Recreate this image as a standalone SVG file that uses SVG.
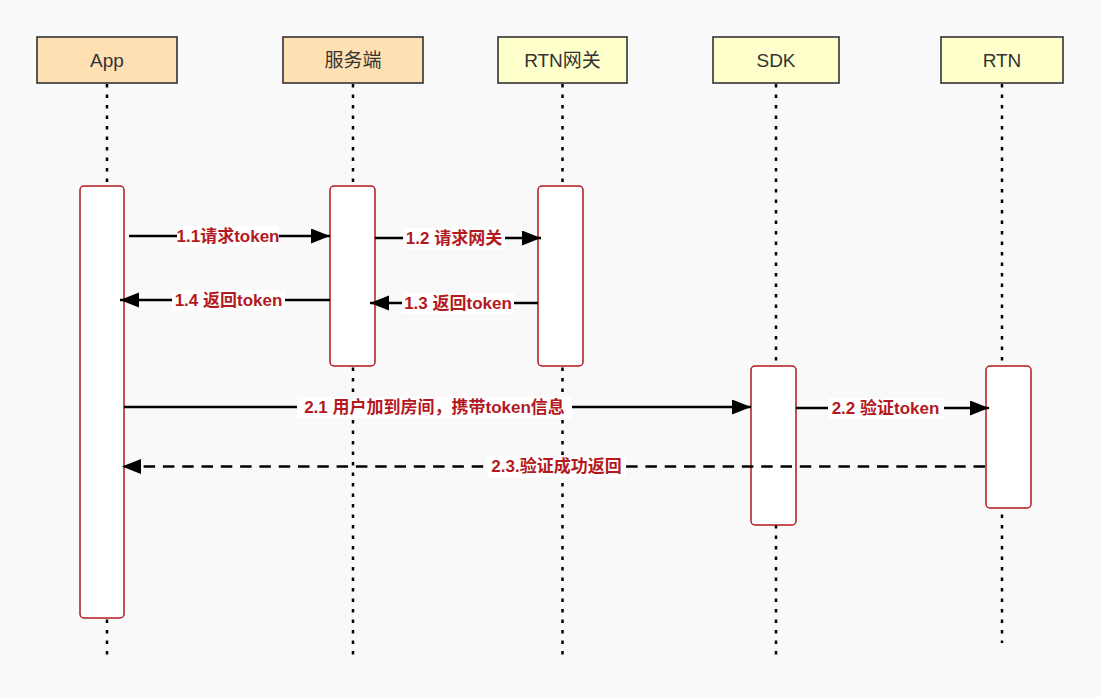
<svg xmlns="http://www.w3.org/2000/svg" width="1101" height="697" viewBox="0 0 1101 697">
  <defs>
    <style>
      .hdr { stroke: #333333; stroke-width: 1.6; }
      .peach { fill: #FFE0B3; }
      .yellow { fill: #FFFFCC; }
      .htxt { font-family: "Liberation Sans", "Noto Sans CJK SC", sans-serif; font-size: 19px; fill: #333333; text-anchor: middle; }
      .life { stroke: #000000; stroke-width: 2.5; stroke-dasharray: 3.5 7; fill: none; }
      .act { fill: #FFFFFF; stroke: #B3191E; stroke-width: 1.5; }
      .msg { stroke: #000000; stroke-width: 2.5; fill: none; }
      .dash { stroke-dasharray: 11.5 7.8; }
      .lbg { fill: #FFFFFF; }
      .ltxt { font-family: "Liberation Sans", "Noto Sans CJK SC", sans-serif; font-size: 17px; font-weight: bold; fill: #B3191E; text-anchor: middle; }
    </style>
    <marker id="arr" markerUnits="userSpaceOnUse" markerWidth="20" markerHeight="16" refX="19" refY="7.5" orient="auto">
      <path d="M0,0 L19,7.5 L0,15 Z" fill="#000000"/>
    </marker>
  </defs>
  <rect width="1101" height="697" fill="#F9F9F9"/>

  <g id="lifelines">
    <line class="life" x1="107" y1="84" x2="107" y2="660"/>
    <line class="life" x1="353" y1="84" x2="353" y2="660"/>
    <line class="life" x1="562.5" y1="84" x2="562.5" y2="660"/>
    <line class="life" x1="776" y1="84" x2="776" y2="660"/>
    <line class="life" x1="1002" y1="84" x2="1002" y2="643"/>
  </g>

  <g id="node-app">
    <rect class="hdr peach" x="37" y="37" width="140" height="46"/>
    <text class="htxt" x="107" y="67">App</text>
  </g>
  <g id="node-server">
    <rect class="hdr peach" x="283" y="37" width="140" height="46"/>
    <text class="htxt" x="353" y="67">服务端</text>
  </g>
  <g id="node-gateway">
    <rect class="hdr yellow" x="498" y="37" width="129" height="46"/>
    <text class="htxt" x="562.5" y="67">RTN网关</text>
  </g>
  <g id="node-sdk">
    <rect class="hdr yellow" x="713" y="37" width="126" height="46"/>
    <text class="htxt" x="776" y="67">SDK</text>
  </g>
  <g id="node-rtn">
    <rect class="hdr yellow" x="941" y="37" width="122" height="46"/>
    <text class="htxt" x="1002" y="67">RTN</text>
  </g>

  <g id="activations">
    <rect id="act-app" class="act" x="80" y="186" width="44" height="432" rx="4"/>
    <rect id="act-server" class="act" x="330" y="186" width="45" height="180" rx="4"/>
    <rect id="act-gateway" class="act" x="538" y="186" width="45" height="180" rx="4"/>
    <rect id="act-sdk" class="act" x="751" y="366" width="45" height="159" rx="4"/>
    <rect id="act-rtn" class="act" x="986" y="366" width="45" height="142" rx="4"/>
  </g>

  <g id="connectors">
    <line class="msg" x1="129" y1="236" x2="330" y2="236" marker-end="url(#arr)"/>
    <line class="msg" x1="330" y1="300" x2="120" y2="300" marker-end="url(#arr)"/>
    <line class="msg" x1="375" y1="238" x2="541" y2="238" marker-end="url(#arr)"/>
    <line class="msg" x1="538" y1="303" x2="370" y2="303" marker-end="url(#arr)"/>
    <line class="msg" x1="124" y1="407" x2="751" y2="407" marker-end="url(#arr)"/>
    <line class="msg" x1="796" y1="408" x2="989" y2="408" marker-end="url(#arr)"/>
    <line class="msg dash" x1="985" y1="466.5" x2="122" y2="466.5" marker-end="url(#arr)"/>
  </g>

  <g id="labels">
    <rect class="lbg" x="177" y="226" width="102" height="21"/>
    <text class="ltxt" x="228" y="242">1.1请求token</text>
    <rect class="lbg" x="172" y="290" width="113" height="21"/>
    <text class="ltxt" x="228.5" y="306">1.4 返回token</text>
    <rect class="lbg" x="403" y="228" width="102" height="21"/>
    <text class="ltxt" x="454" y="244">1.2 请求网关</text>
    <rect class="lbg" x="402" y="293" width="112" height="21"/>
    <text class="ltxt" x="458" y="309">1.3 返回token</text>
    <rect class="lbg" x="297" y="397" width="275" height="21"/>
    <text class="ltxt" x="434.5" y="413">2.1 用户加到房间，携带token信息</text>
    <rect class="lbg" x="828" y="398" width="116" height="21"/>
    <text class="ltxt" x="885.5" y="414">2.2 验证token</text>
    <rect class="lbg" x="487" y="456" width="139" height="21"/>
    <text class="ltxt" x="556.5" y="472">2.3.验证成功返回</text>
  </g>
</svg>
